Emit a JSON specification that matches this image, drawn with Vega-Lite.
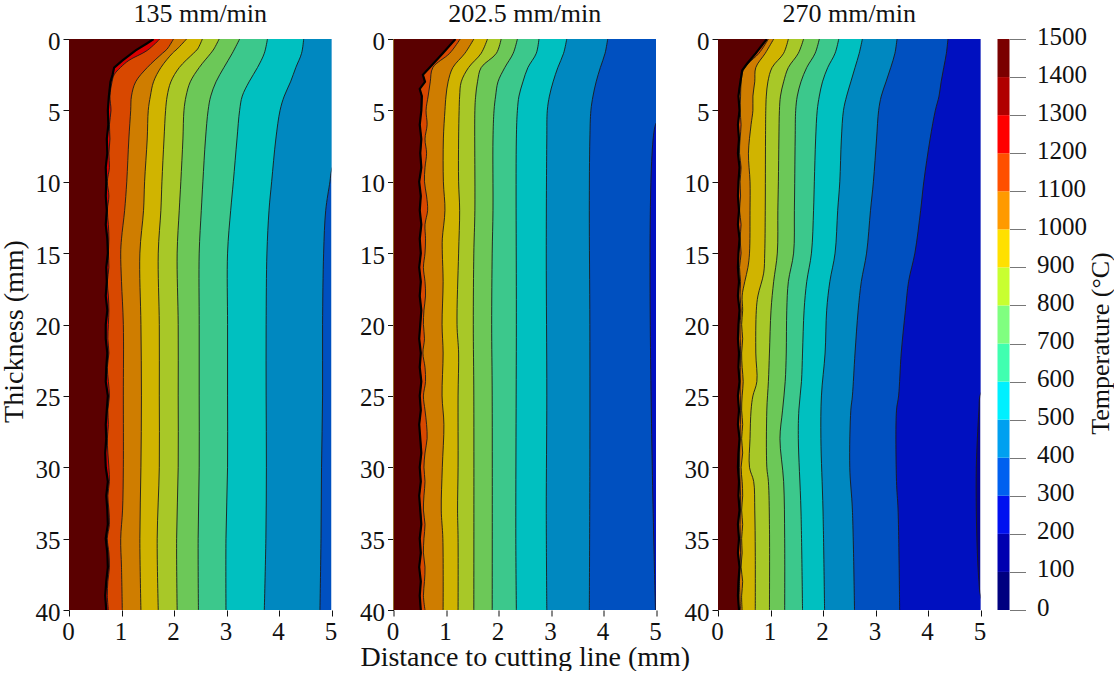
{"$schema":"https://vega.github.io/schema/vega-lite/v6.json","background":"white","padding":{"left":0,"right":0,"top":1,"bottom":0},"bounds":"flush","spacing":61.5,"resolve":{"scale":{"color":"independent"}},"config":{"font":"Liberation Serif","view":{"stroke":null},"concat":{"spacing":61.5},"axis":{"grid":false,"domain":false,"labelFont":"Liberation Serif","titleFont":"Liberation Serif","labelColor":"#111","titleColor":"#111","titleFontWeight":"normal","labelFontSize":25,"titleFontSize":28,"tickColor":"#111","tickSize":6,"labelFlush":false,"labelOverlap":false},"title":{"font":"Liberation Serif","fontSize":26,"fontWeight":"normal","color":"#111","offset":2}},
"datasets":{
"bands":[{"lo":0,"hi":100},{"lo":100,"hi":200},{"lo":200,"hi":300},{"lo":300,"hi":400},{"lo":400,"hi":500},{"lo":500,"hi":600},{"lo":600,"hi":700},{"lo":700,"hi":800},{"lo":800,"hi":900},{"lo":900,"hi":1000},{"lo":1000,"hi":1100},{"lo":1100,"hi":1200},{"lo":1200,"hi":1300},{"lo":1300,"hi":1400},{"lo":1400,"hi":1500}],
"p135":[{"T":300,"y":0,"x":5},{"T":300,"y":40,"x":5},
{"T":400,"y":0,"x":5.2},{"T":400,"y":8,"x":5.1},{"T":400,"y":9.2,"x":5},{"T":400,"y":10,"x":4.97},{"T":400,"y":12,"x":4.89},{"T":400,"y":15,"x":4.85},{"T":400,"y":20,"x":4.83},{"T":400,"y":25,"x":4.83},{"T":400,"y":30,"x":4.81},{"T":400,"y":35,"x":4.8},{"T":400,"y":40,"x":4.78},
{"T":500,"y":0,"x":4.47},{"T":500,"y":1,"x":4.43},{"T":500,"y":2,"x":4.32},{"T":500,"y":3,"x":4.22},{"T":500,"y":4,"x":4.1},{"T":500,"y":5,"x":4.02},{"T":500,"y":7,"x":3.94},{"T":500,"y":10,"x":3.86},{"T":500,"y":12,"x":3.81},{"T":500,"y":15,"x":3.77},{"T":500,"y":20,"x":3.755},{"T":500,"y":25,"x":3.755},{"T":500,"y":30,"x":3.76},{"T":500,"y":35,"x":3.75},{"T":500,"y":40,"x":3.72},
{"T":600,"y":0,"x":3.78},{"T":600,"y":1,"x":3.72},{"T":600,"y":2,"x":3.59},{"T":600,"y":3,"x":3.43},{"T":600,"y":4,"x":3.3},{"T":600,"y":5,"x":3.25},{"T":600,"y":7,"x":3.2},{"T":600,"y":10,"x":3.13},{"T":600,"y":12,"x":3.08},{"T":600,"y":15,"x":3.02},{"T":600,"y":20,"x":3.02},{"T":600,"y":25,"x":3.02},{"T":600,"y":30,"x":3.02},{"T":600,"y":35,"x":2.99},{"T":600,"y":40,"x":2.99},
{"T":700,"y":0,"x":3.25},{"T":700,"y":1,"x":3.11},{"T":700,"y":2,"x":2.95},{"T":700,"y":3,"x":2.8},{"T":700,"y":4,"x":2.7},{"T":700,"y":5,"x":2.65},{"T":700,"y":7,"x":2.6},{"T":700,"y":10,"x":2.55},{"T":700,"y":12,"x":2.52},{"T":700,"y":15,"x":2.48},{"T":700,"y":20,"x":2.48},{"T":700,"y":25,"x":2.48},{"T":700,"y":30,"x":2.48},{"T":700,"y":35,"x":2.46},{"T":700,"y":40,"x":2.465},
{"T":800,"y":0,"x":2.86},{"T":800,"y":0.7,"x":2.76},{"T":800,"y":1,"x":2.7},{"T":800,"y":2,"x":2.48},{"T":800,"y":3,"x":2.31},{"T":800,"y":4,"x":2.23},{"T":800,"y":5,"x":2.19},{"T":800,"y":7,"x":2.17},{"T":800,"y":10,"x":2.13},{"T":800,"y":12,"x":2.1},{"T":800,"y":15,"x":2.06},{"T":800,"y":20,"x":2.08},{"T":800,"y":25,"x":2.08},{"T":800,"y":30,"x":2.08},{"T":800,"y":35,"x":2.05},{"T":800,"y":40,"x":2.06},
{"T":900,"y":0,"x":2.54},{"T":900,"y":0.7,"x":2.45},{"T":900,"y":1,"x":2.37},{"T":900,"y":2,"x":2.1},{"T":900,"y":3,"x":1.94},{"T":900,"y":4,"x":1.87},{"T":900,"y":5,"x":1.84},{"T":900,"y":7,"x":1.81},{"T":900,"y":10,"x":1.77},{"T":900,"y":12,"x":1.75},{"T":900,"y":15,"x":1.7},{"T":900,"y":20,"x":1.72},{"T":900,"y":25,"x":1.72},{"T":900,"y":30,"x":1.72},{"T":900,"y":35,"x":1.68},{"T":900,"y":40,"x":1.7},
{"T":1000,"y":0,"x":2.24},{"T":1000,"y":0.7,"x":2.06},{"T":1000,"y":1,"x":1.97},{"T":1000,"y":2,"x":1.75},{"T":1000,"y":3,"x":1.61},{"T":1000,"y":4,"x":1.55},{"T":1000,"y":5,"x":1.51},{"T":1000,"y":7,"x":1.49},{"T":1000,"y":10,"x":1.44},{"T":1000,"y":12,"x":1.42},{"T":1000,"y":15,"x":1.35},{"T":1000,"y":20,"x":1.37},{"T":1000,"y":25,"x":1.38},{"T":1000,"y":30,"x":1.37},{"T":1000,"y":35,"x":1.35},{"T":1000,"y":40,"x":1.37},
{"T":1100,"y":0,"x":1.99},{"T":1100,"y":0.7,"x":1.87},{"T":1100,"y":1,"x":1.78},{"T":1100,"y":2,"x":1.49},{"T":1100,"y":3,"x":1.27},{"T":1100,"y":4,"x":1.19},{"T":1100,"y":5,"x":1.175},{"T":1100,"y":7,"x":1.14},{"T":1100,"y":10,"x":1.1},{"T":1100,"y":12,"x":1.06},{"T":1100,"y":14,"x":1},{"T":1100,"y":15,"x":0.985},{"T":1100,"y":17,"x":1},{"T":1100,"y":20,"x":1.035},{"T":1100,"y":25,"x":1.035},{"T":1100,"y":30,"x":1.035},{"T":1100,"y":33,"x":1.02},{"T":1100,"y":35,"x":0.985},{"T":1100,"y":37,"x":1},{"T":1100,"y":40,"x":1.015},
{"T":1200,"y":0,"x":1.73},{"T":1200,"y":0.8,"x":1.49},{"T":1200,"y":1.5,"x":1.14},{"T":1200,"y":2,"x":0.98},{"T":1200,"y":2.5,"x":0.86},{"T":1200,"y":3,"x":0.82},{"T":1200,"y":4,"x":0.78},{"T":1200,"y":5,"x":0.8},{"T":1200,"y":6,"x":0.77},{"T":1200,"y":7,"x":0.78},{"T":1200,"y":8,"x":0.76},{"T":1200,"y":9,"x":0.77},{"T":1200,"y":10,"x":0.73},{"T":1200,"y":11,"x":0.76},{"T":1200,"y":12,"x":0.73},{"T":1200,"y":13,"x":0.75},{"T":1200,"y":14,"x":0.76},{"T":1200,"y":15,"x":0.75},{"T":1200,"y":16,"x":0.76},{"T":1200,"y":17,"x":0.73},{"T":1200,"y":18,"x":0.75},{"T":1200,"y":19,"x":0.76},{"T":1200,"y":20,"x":0.75},{"T":1200,"y":21,"x":0.74},{"T":1200,"y":22,"x":0.76},{"T":1200,"y":23,"x":0.73},{"T":1200,"y":24,"x":0.75},{"T":1200,"y":25,"x":0.77},{"T":1200,"y":26,"x":0.74},{"T":1200,"y":27,"x":0.75},{"T":1200,"y":28,"x":0.73},{"T":1200,"y":29,"x":0.74},{"T":1200,"y":30,"x":0.76},{"T":1200,"y":31,"x":0.77},{"T":1200,"y":32,"x":0.74},{"T":1200,"y":33,"x":0.76},{"T":1200,"y":34,"x":0.77},{"T":1200,"y":35,"x":0.73},{"T":1200,"y":36,"x":0.76},{"T":1200,"y":37,"x":0.77},{"T":1200,"y":38,"x":0.74},{"T":1200,"y":39,"x":0.73},{"T":1200,"y":40,"x":0.75},
{"T":1400,"y":0,"x":1.61},{"T":1400,"y":0.3,"x":1.49},{"T":1400,"y":0.8,"x":1.27},{"T":1400,"y":1.5,"x":1.02},{"T":1400,"y":2,"x":0.86},{"T":1400,"y":2.5,"x":0.83},{"T":1400,"y":3,"x":0.79},{"T":1400,"y":4,"x":0.76},{"T":1400,"y":5,"x":0.74},{"T":1400,"y":6,"x":0.75},{"T":1400,"y":7,"x":0.72},{"T":1400,"y":8,"x":0.73},{"T":1400,"y":9,"x":0.7},{"T":1400,"y":10,"x":0.71},{"T":1400,"y":11,"x":0.7},{"T":1400,"y":12,"x":0.72},{"T":1400,"y":13,"x":0.7},{"T":1400,"y":14,"x":0.73},{"T":1400,"y":15,"x":0.74},{"T":1400,"y":16,"x":0.71},{"T":1400,"y":17,"x":0.72},{"T":1400,"y":18,"x":0.7},{"T":1400,"y":19,"x":0.73},{"T":1400,"y":20,"x":0.7},{"T":1400,"y":21,"x":0.7},{"T":1400,"y":22,"x":0.73},{"T":1400,"y":23,"x":0.71},{"T":1400,"y":24,"x":0.7},{"T":1400,"y":25,"x":0.74},{"T":1400,"y":26,"x":0.72},{"T":1400,"y":27,"x":0.7},{"T":1400,"y":28,"x":0.71},{"T":1400,"y":29,"x":0.69},{"T":1400,"y":30,"x":0.7},{"T":1400,"y":31,"x":0.74},{"T":1400,"y":32,"x":0.71},{"T":1400,"y":33,"x":0.73},{"T":1400,"y":34,"x":0.74},{"T":1400,"y":35,"x":0.7},{"T":1400,"y":36,"x":0.73},{"T":1400,"y":37,"x":0.74},{"T":1400,"y":38,"x":0.71},{"T":1400,"y":39,"x":0.69},{"T":1400,"y":40,"x":0.71}],
"p202":[{"T":200,"y":0,"x":5},{"T":200,"y":40,"x":5},
{"T":300,"y":0,"x":5.2},{"T":300,"y":5.5,"x":5.1},{"T":300,"y":6,"x":4.99},{"T":300,"y":40,"x":4.99},
{"T":400,"y":0,"x":4.08},{"T":400,"y":1,"x":4.03},{"T":400,"y":2,"x":3.94},{"T":400,"y":3,"x":3.86},{"T":400,"y":4,"x":3.8},{"T":400,"y":5,"x":3.76},{"T":400,"y":7,"x":3.74},{"T":400,"y":12,"x":3.73},{"T":400,"y":20,"x":3.74},{"T":400,"y":30,"x":3.74},{"T":400,"y":40,"x":3.73},
{"T":500,"y":0,"x":3.3},{"T":500,"y":1,"x":3.24},{"T":500,"y":2,"x":3.13},{"T":500,"y":3,"x":3.04},{"T":500,"y":4,"x":2.97},{"T":500,"y":5,"x":2.93},{"T":500,"y":7,"x":2.92},{"T":500,"y":15,"x":2.91},{"T":500,"y":25,"x":2.92},{"T":500,"y":33,"x":2.91},{"T":500,"y":40,"x":2.92},
{"T":600,"y":0,"x":2.77},{"T":600,"y":1,"x":2.72},{"T":600,"y":2,"x":2.56},{"T":600,"y":3,"x":2.465},{"T":600,"y":4,"x":2.39},{"T":600,"y":5,"x":2.36},{"T":600,"y":7,"x":2.34},{"T":600,"y":20,"x":2.34},{"T":600,"y":35,"x":2.33},{"T":600,"y":40,"x":2.34},
{"T":700,"y":0,"x":2.36},{"T":700,"y":1,"x":2.28},{"T":700,"y":2,"x":2.12},{"T":700,"y":3,"x":1.99},{"T":700,"y":4,"x":1.945},{"T":700,"y":5,"x":1.915},{"T":700,"y":7,"x":1.895},{"T":700,"y":12,"x":1.895},{"T":700,"y":15,"x":1.88},{"T":700,"y":20,"x":1.87},{"T":700,"y":25,"x":1.88},{"T":700,"y":40,"x":1.88},
{"T":800,"y":0,"x":2.05},{"T":800,"y":1,"x":1.96},{"T":800,"y":2,"x":1.67},{"T":800,"y":3,"x":1.6},{"T":800,"y":4,"x":1.565},{"T":800,"y":5,"x":1.55},{"T":800,"y":12,"x":1.55},{"T":800,"y":15,"x":1.53},{"T":800,"y":20,"x":1.52},{"T":800,"y":25,"x":1.53},{"T":800,"y":40,"x":1.53},
{"T":900,"y":0,"x":1.79},{"T":900,"y":1,"x":1.67},{"T":900,"y":2,"x":1.43},{"T":900,"y":3,"x":1.29},{"T":900,"y":4,"x":1.26},{"T":900,"y":5,"x":1.25},{"T":900,"y":7,"x":1.24},{"T":900,"y":10,"x":1.24},{"T":900,"y":12,"x":1.26},{"T":900,"y":15,"x":1.24},{"T":900,"y":20,"x":1.21},{"T":900,"y":22,"x":1.24},{"T":900,"y":25,"x":1.23},{"T":900,"y":30,"x":1.23},{"T":900,"y":33,"x":1.22},{"T":900,"y":35,"x":1.23},{"T":900,"y":40,"x":1.23},
{"T":1000,"y":0,"x":1.53},{"T":1000,"y":1,"x":1.36},{"T":1000,"y":2,"x":1.13},{"T":1000,"y":3,"x":1.04},{"T":1000,"y":4,"x":1},{"T":1000,"y":5,"x":0.98},{"T":1000,"y":7,"x":0.95},{"T":1000,"y":10,"x":0.95},{"T":1000,"y":12,"x":0.98},{"T":1000,"y":14,"x":0.93},{"T":1000,"y":15,"x":0.93},{"T":1000,"y":17,"x":0.945},{"T":1000,"y":20,"x":0.925},{"T":1000,"y":22,"x":0.945},{"T":1000,"y":25,"x":0.925},{"T":1000,"y":27,"x":0.96},{"T":1000,"y":30,"x":0.93},{"T":1000,"y":33,"x":0.91},{"T":1000,"y":35,"x":0.94},{"T":1000,"y":40,"x":0.945},
{"T":1100,"y":0,"x":1.27},{"T":1100,"y":1,"x":1.07},{"T":1100,"y":2,"x":0.75},{"T":1100,"y":3,"x":0.7},{"T":1100,"y":4,"x":0.66},{"T":1100,"y":5,"x":0.62},{"T":1100,"y":6,"x":0.64},{"T":1100,"y":7,"x":0.6},{"T":1100,"y":8,"x":0.63},{"T":1100,"y":9,"x":0.6},{"T":1100,"y":10,"x":0.59},{"T":1100,"y":11,"x":0.63},{"T":1100,"y":12,"x":0.65},{"T":1100,"y":13,"x":0.6},{"T":1100,"y":14,"x":0.61},{"T":1100,"y":15,"x":0.6},{"T":1100,"y":16,"x":0.57},{"T":1100,"y":17,"x":0.6},{"T":1100,"y":18,"x":0.61},{"T":1100,"y":19,"x":0.58},{"T":1100,"y":20,"x":0.57},{"T":1100,"y":21,"x":0.59},{"T":1100,"y":22,"x":0.56},{"T":1100,"y":23,"x":0.6},{"T":1100,"y":24,"x":0.61},{"T":1100,"y":25,"x":0.57},{"T":1100,"y":26,"x":0.6},{"T":1100,"y":27,"x":0.63},{"T":1100,"y":28,"x":0.64},{"T":1100,"y":29,"x":0.6},{"T":1100,"y":30,"x":0.58},{"T":1100,"y":31,"x":0.6},{"T":1100,"y":32,"x":0.58},{"T":1100,"y":33,"x":0.57},{"T":1100,"y":34,"x":0.6},{"T":1100,"y":35,"x":0.58},{"T":1100,"y":36,"x":0.57},{"T":1100,"y":37,"x":0.6},{"T":1100,"y":38,"x":0.59},{"T":1100,"y":39,"x":0.57},{"T":1100,"y":40,"x":0.6},
{"T":1400,"y":0,"x":1.18},{"T":1400,"y":1,"x":0.94},{"T":1400,"y":2,"x":0.69},{"T":1400,"y":2.5,"x":0.56},{"T":1400,"y":3,"x":0.6},{"T":1400,"y":3.5,"x":0.5},{"T":1400,"y":4,"x":0.54},{"T":1400,"y":5,"x":0.53},{"T":1400,"y":6,"x":0.5},{"T":1400,"y":7,"x":0.53},{"T":1400,"y":8,"x":0.51},{"T":1400,"y":9,"x":0.53},{"T":1400,"y":10,"x":0.49},{"T":1400,"y":11,"x":0.52},{"T":1400,"y":12,"x":0.5},{"T":1400,"y":13,"x":0.53},{"T":1400,"y":14,"x":0.5},{"T":1400,"y":15,"x":0.52},{"T":1400,"y":16,"x":0.49},{"T":1400,"y":17,"x":0.52},{"T":1400,"y":18,"x":0.5},{"T":1400,"y":19,"x":0.53},{"T":1400,"y":20,"x":0.51},{"T":1400,"y":21,"x":0.49},{"T":1400,"y":22,"x":0.52},{"T":1400,"y":23,"x":0.5},{"T":1400,"y":24,"x":0.53},{"T":1400,"y":25,"x":0.5},{"T":1400,"y":26,"x":0.52},{"T":1400,"y":27,"x":0.49},{"T":1400,"y":28,"x":0.51},{"T":1400,"y":29,"x":0.53},{"T":1400,"y":30,"x":0.5},{"T":1400,"y":31,"x":0.52},{"T":1400,"y":32,"x":0.49},{"T":1400,"y":33,"x":0.51},{"T":1400,"y":34,"x":0.53},{"T":1400,"y":35,"x":0.5},{"T":1400,"y":36,"x":0.52},{"T":1400,"y":37,"x":0.49},{"T":1400,"y":38,"x":0.52},{"T":1400,"y":39,"x":0.5},{"T":1400,"y":40,"x":0.52}],
"p270":[{"T":100,"y":0,"x":5},{"T":100,"y":40,"x":5},
{"T":200,"y":0,"x":5.2},{"T":200,"y":24,"x":5.1},{"T":200,"y":25,"x":4.99},{"T":200,"y":26,"x":4.97},{"T":200,"y":28,"x":4.94},{"T":200,"y":30,"x":4.92},{"T":200,"y":33,"x":4.92},{"T":200,"y":36,"x":4.94},{"T":200,"y":38,"x":4.97},{"T":200,"y":39,"x":5},{"T":200,"y":40,"x":5.1},
{"T":300,"y":0,"x":4.38},{"T":300,"y":1,"x":4.35},{"T":300,"y":2,"x":4.3},{"T":300,"y":3,"x":4.25},{"T":300,"y":4,"x":4.21},{"T":300,"y":5,"x":4.14},{"T":300,"y":7,"x":4.04},{"T":300,"y":10,"x":3.92},{"T":300,"y":12,"x":3.86},{"T":300,"y":15,"x":3.75},{"T":300,"y":17,"x":3.63},{"T":300,"y":19,"x":3.57},{"T":300,"y":22,"x":3.49},{"T":300,"y":25,"x":3.44},{"T":300,"y":26,"x":3.4},{"T":300,"y":31,"x":3.4},{"T":300,"y":33,"x":3.43},{"T":300,"y":40,"x":3.46},
{"T":400,"y":0,"x":3.41},{"T":400,"y":1,"x":3.37},{"T":400,"y":2,"x":3.29},{"T":400,"y":3,"x":3.2},{"T":400,"y":4,"x":3.11},{"T":400,"y":5,"x":3.06},{"T":400,"y":7,"x":3.02},{"T":400,"y":10,"x":2.96},{"T":400,"y":12,"x":2.905},{"T":400,"y":15,"x":2.83},{"T":400,"y":17,"x":2.73},{"T":400,"y":19,"x":2.67},{"T":400,"y":22,"x":2.61},{"T":400,"y":25,"x":2.56},{"T":400,"y":26,"x":2.53},{"T":400,"y":30,"x":2.51},{"T":400,"y":33,"x":2.56},{"T":400,"y":40,"x":2.6},
{"T":500,"y":0,"x":2.75},{"T":500,"y":1,"x":2.69},{"T":500,"y":2,"x":2.61},{"T":500,"y":3,"x":2.53},{"T":500,"y":4,"x":2.45},{"T":500,"y":5,"x":2.39},{"T":500,"y":7,"x":2.35},{"T":500,"y":10,"x":2.32},{"T":500,"y":12,"x":2.28},{"T":500,"y":15,"x":2.23},{"T":500,"y":17,"x":2.13},{"T":500,"y":19,"x":2.07},{"T":500,"y":22,"x":2.04},{"T":500,"y":25,"x":1.97},{"T":500,"y":28,"x":1.96},{"T":500,"y":33,"x":2},{"T":500,"y":40,"x":2.03},
{"T":600,"y":0,"x":2.3},{"T":600,"y":1,"x":2.23},{"T":600,"y":2,"x":2.09},{"T":600,"y":3,"x":1.99},{"T":600,"y":4,"x":1.93},{"T":600,"y":5,"x":1.89},{"T":600,"y":7,"x":1.86},{"T":600,"y":10,"x":1.835},{"T":600,"y":12,"x":1.82},{"T":600,"y":15,"x":1.78},{"T":600,"y":17,"x":1.69},{"T":600,"y":19,"x":1.64},{"T":600,"y":22,"x":1.61},{"T":600,"y":24,"x":1.59},{"T":600,"y":26,"x":1.54},{"T":600,"y":28,"x":1.53},{"T":600,"y":33,"x":1.58},{"T":600,"y":40,"x":1.61},
{"T":700,"y":0,"x":1.93},{"T":700,"y":1,"x":1.85},{"T":700,"y":2,"x":1.69},{"T":700,"y":3,"x":1.58},{"T":700,"y":4,"x":1.51},{"T":700,"y":5,"x":1.48},{"T":700,"y":7,"x":1.47},{"T":700,"y":12,"x":1.455},{"T":700,"y":15,"x":1.44},{"T":700,"y":17,"x":1.34},{"T":700,"y":19,"x":1.31},{"T":700,"y":22,"x":1.3},{"T":700,"y":24,"x":1.28},{"T":700,"y":26,"x":1.23},{"T":700,"y":28,"x":1.18},{"T":700,"y":31,"x":1.25},{"T":700,"y":35,"x":1.27},{"T":700,"y":40,"x":1.27},
{"T":800,"y":0,"x":1.63},{"T":800,"y":1,"x":1.53},{"T":800,"y":2,"x":1.34},{"T":800,"y":3,"x":1.25},{"T":800,"y":4,"x":1.19},{"T":800,"y":5,"x":1.17},{"T":800,"y":7,"x":1.16},{"T":800,"y":10,"x":1.15},{"T":800,"y":12,"x":1.14},{"T":800,"y":15,"x":1.13},{"T":800,"y":17,"x":1.06},{"T":800,"y":19,"x":1.01},{"T":800,"y":22,"x":0.98},{"T":800,"y":24,"x":0.96},{"T":800,"y":26,"x":0.93},{"T":800,"y":30,"x":0.93},{"T":800,"y":31,"x":0.96},{"T":800,"y":34,"x":0.98},{"T":800,"y":40,"x":0.98},
{"T":900,"y":0,"x":1.34},{"T":900,"y":1,"x":1.25},{"T":900,"y":2,"x":1.03},{"T":900,"y":3,"x":0.95},{"T":900,"y":4,"x":0.92},{"T":900,"y":5,"x":0.91},{"T":900,"y":7,"x":0.905},{"T":900,"y":12,"x":0.9},{"T":900,"y":15,"x":0.89},{"T":900,"y":16.4,"x":0.87},{"T":900,"y":18,"x":0.76},{"T":900,"y":19,"x":0.73},{"T":900,"y":22,"x":0.72},{"T":900,"y":24,"x":0.74},{"T":900,"y":25,"x":0.665},{"T":900,"y":26,"x":0.63},{"T":900,"y":28,"x":0.61},{"T":900,"y":30,"x":0.6},{"T":900,"y":31,"x":0.68},{"T":900,"y":33,"x":0.7},{"T":900,"y":36,"x":0.71},{"T":900,"y":40,"x":0.71},
{"T":1000,"y":0,"x":1.06},{"T":1000,"y":1,"x":0.9},{"T":1000,"y":2,"x":0.72},{"T":1000,"y":3,"x":0.7},{"T":1000,"y":4,"x":0.665},{"T":1000,"y":5,"x":0.665},{"T":1000,"y":6,"x":0.63},{"T":1000,"y":8,"x":0.58},{"T":1000,"y":10,"x":0.61},{"T":1000,"y":12,"x":0.61},{"T":1000,"y":15,"x":0.6},{"T":1000,"y":16,"x":0.57},{"T":1000,"y":17,"x":0.51},{"T":1000,"y":18,"x":0.46},{"T":1000,"y":19,"x":0.47},{"T":1000,"y":20,"x":0.45},{"T":1000,"y":21,"x":0.47},{"T":1000,"y":22,"x":0.45},{"T":1000,"y":23,"x":0.46},{"T":1000,"y":24,"x":0.48},{"T":1000,"y":25,"x":0.46},{"T":1000,"y":26,"x":0.45},{"T":1000,"y":27,"x":0.47},{"T":1000,"y":28,"x":0.45},{"T":1000,"y":29,"x":0.47},{"T":1000,"y":30,"x":0.44},{"T":1000,"y":31,"x":0.46},{"T":1000,"y":32,"x":0.47},{"T":1000,"y":33,"x":0.45},{"T":1000,"y":34,"x":0.47},{"T":1000,"y":35,"x":0.45},{"T":1000,"y":36,"x":0.46},{"T":1000,"y":37,"x":0.44},{"T":1000,"y":38,"x":0.47},{"T":1000,"y":39,"x":0.45},{"T":1000,"y":40,"x":0.46},
{"T":1100,"y":0,"x":0.96},{"T":1100,"y":1,"x":0.78},{"T":1100,"y":1.7,"x":0.58},{"T":1100,"y":2.2,"x":0.48},{"T":1100,"y":3,"x":0.44},{"T":1100,"y":4,"x":0.43},{"T":1100,"y":5,"x":0.42},{"T":1100,"y":6,"x":0.44},{"T":1100,"y":7,"x":0.42},{"T":1100,"y":8,"x":0.41},{"T":1100,"y":9,"x":0.44},{"T":1100,"y":10,"x":0.42},{"T":1100,"y":11,"x":0.43},{"T":1100,"y":12,"x":0.41},{"T":1100,"y":13,"x":0.44},{"T":1100,"y":14,"x":0.42},{"T":1100,"y":15,"x":0.44},{"T":1100,"y":16,"x":0.41},{"T":1100,"y":17,"x":0.43},{"T":1100,"y":18,"x":0.42},{"T":1100,"y":19,"x":0.44},{"T":1100,"y":20,"x":0.42},{"T":1100,"y":22,"x":0.43},{"T":1100,"y":24,"x":0.42},{"T":1100,"y":26,"x":0.43},{"T":1100,"y":28,"x":0.42},{"T":1100,"y":30,"x":0.41},{"T":1100,"y":32,"x":0.43},{"T":1100,"y":34,"x":0.42},{"T":1100,"y":36,"x":0.43},{"T":1100,"y":38,"x":0.41},{"T":1100,"y":40,"x":0.43},
{"T":1400,"y":0,"x":0.93},{"T":1400,"y":1,"x":0.72},{"T":1400,"y":1.7,"x":0.56},{"T":1400,"y":2.2,"x":0.46},{"T":1400,"y":3.4,"x":0.41},{"T":1400,"y":4,"x":0.39},{"T":1400,"y":5,"x":0.41},{"T":1400,"y":6,"x":0.38},{"T":1400,"y":7,"x":0.4},{"T":1400,"y":8,"x":0.38},{"T":1400,"y":9,"x":0.41},{"T":1400,"y":10,"x":0.39},{"T":1400,"y":11,"x":0.38},{"T":1400,"y":12,"x":0.4},{"T":1400,"y":13,"x":0.38},{"T":1400,"y":14,"x":0.41},{"T":1400,"y":15,"x":0.39},{"T":1400,"y":16,"x":0.38},{"T":1400,"y":17,"x":0.4},{"T":1400,"y":18,"x":0.38},{"T":1400,"y":19,"x":0.41},{"T":1400,"y":20,"x":0.39},{"T":1400,"y":21,"x":0.38},{"T":1400,"y":22,"x":0.4},{"T":1400,"y":23,"x":0.39},{"T":1400,"y":24,"x":0.41},{"T":1400,"y":25,"x":0.38},{"T":1400,"y":26,"x":0.4},{"T":1400,"y":27,"x":0.38},{"T":1400,"y":28,"x":0.41},{"T":1400,"y":29,"x":0.39},{"T":1400,"y":30,"x":0.38},{"T":1400,"y":31,"x":0.4},{"T":1400,"y":32,"x":0.39},{"T":1400,"y":33,"x":0.41},{"T":1400,"y":34,"x":0.38},{"T":1400,"y":35,"x":0.4},{"T":1400,"y":36,"x":0.38},{"T":1400,"y":37,"x":0.41},{"T":1400,"y":38,"x":0.39},{"T":1400,"y":39,"x":0.38},{"T":1400,"y":40,"x":0.4}]
},
"hconcat":[
{"width":262.5,"height":571,"title":"135 mm/min","data":{"name":"p135"},"layer":[
{"mark":{"type":"area","orient":"horizontal","clip":true,"interpolate":"catmull-rom"},"encoding":{"x":{"field":"x","type":"quantitative","stack":null,"scale":{"domain":[0,5],"nice":false},"axis":{"values":[0,1,2,3,4,5],"title":null,"labelPadding":3,"labelOffset":-1}},"y":{"field":"y","type":"quantitative","scale":{"domain":[0,40],"nice":false,"reverse":true},"axis":{"values":[0,5,10,15,20,25,30,35,40],"title":"Thickness (mm)","labelPadding":3,"labelOffset":2,"titleX":-41,"titleY":292}},"color":{"field":"T","type":"nominal","legend":null,"scale":{"domain":[100,200,300,400,500,600,700,800,900,1000,1100,1200,1300,1400],"range":["#000090","#0010c0","#0050c0","#0088c0","#00c0c0","#3cc88c","#6cc858","#a8c828","#d0b400","#cf7d00","#d84800","#d80000","#900000","#5a0000"]}}}},
{"transform":[{"filter":"datum.T>300"}],"mark":{"type":"line","clip":true,"interpolate":"catmull-rom","color":"#1c1c1c","strokeWidth":1,"opacity":0.9},"encoding":{"x":{"field":"x","type":"quantitative"},"y":{"field":"y","type":"quantitative"},"detail":{"field":"T","type":"nominal"},"order":{"field":"y","type":"quantitative"}}},
{"transform":[{"filter":"datum.T==1400"}],"mark":{"type":"line","clip":true,"color":"#000","strokeWidth":2.2},"encoding":{"x":{"field":"x","type":"quantitative"},"y":{"field":"y","type":"quantitative"},"order":{"field":"y","type":"quantitative"}}}]},
{"width":262.5,"height":571,"title":"202.5 mm/min","data":{"name":"p202"},"layer":[
{"mark":{"type":"area","orient":"horizontal","clip":true,"interpolate":"catmull-rom"},"encoding":{"x":{"field":"x","type":"quantitative","stack":null,"scale":{"domain":[0,5],"nice":false},"axis":{"values":[0,1,2,3,4,5],"title":"Distance to cutting line (mm)","labelPadding":3,"labelOffset":-1,"titleY":33}},"y":{"field":"y","type":"quantitative","scale":{"domain":[0,40],"nice":false,"reverse":true},"axis":{"values":[0,5,10,15,20,25,30,35,40],"title":null,"labelPadding":3,"labelOffset":2}},"color":{"field":"T","type":"nominal","legend":null,"scale":{"domain":[100,200,300,400,500,600,700,800,900,1000,1100,1200,1300,1400],"range":["#000090","#0010c0","#0050c0","#0088c0","#00c0c0","#3cc88c","#6cc858","#a8c828","#d0b400","#cf7d00","#d84800","#d80000","#900000","#5a0000"]}}}},
{"transform":[{"filter":"datum.T>200"}],"mark":{"type":"line","clip":true,"interpolate":"catmull-rom","color":"#1c1c1c","strokeWidth":1,"opacity":0.9},"encoding":{"x":{"field":"x","type":"quantitative"},"y":{"field":"y","type":"quantitative"},"detail":{"field":"T","type":"nominal"},"order":{"field":"y","type":"quantitative"}}},
{"transform":[{"filter":"datum.T==1400"}],"mark":{"type":"line","clip":true,"color":"#000","strokeWidth":2.2},"encoding":{"x":{"field":"x","type":"quantitative"},"y":{"field":"y","type":"quantitative"},"order":{"field":"y","type":"quantitative"}}}]},
{"spacing":16.5,"bounds":"flush","resolve":{"scale":{"color":"independent"}},"hconcat":[
{"width":262.5,"height":571,"title":"270 mm/min","data":{"name":"p270"},"layer":[
{"mark":{"type":"area","orient":"horizontal","clip":true,"interpolate":"catmull-rom"},"encoding":{"x":{"field":"x","type":"quantitative","stack":null,"scale":{"domain":[0,5],"nice":false},"axis":{"values":[0,1,2,3,4,5],"title":null,"labelPadding":3,"labelOffset":-1}},"y":{"field":"y","type":"quantitative","scale":{"domain":[0,40],"nice":false,"reverse":true},"axis":{"values":[0,5,10,15,20,25,30,35,40],"title":null,"labelPadding":3,"labelOffset":2}},"color":{"field":"T","type":"nominal","legend":null,"scale":{"domain":[100,200,300,400,500,600,700,800,900,1000,1100,1200,1300,1400],"range":["#000090","#0010c0","#0050c0","#0088c0","#00c0c0","#3cc88c","#6cc858","#a8c828","#d0b400","#cf7d00","#d84800","#d80000","#900000","#5a0000"]}}}},
{"transform":[{"filter":"datum.T>100"}],"mark":{"type":"line","clip":true,"interpolate":"catmull-rom","color":"#1c1c1c","strokeWidth":1,"opacity":0.9},"encoding":{"x":{"field":"x","type":"quantitative"},"y":{"field":"y","type":"quantitative"},"detail":{"field":"T","type":"nominal"},"order":{"field":"y","type":"quantitative"}}},
{"transform":[{"filter":"datum.T==1400"}],"mark":{"type":"line","clip":true,"color":"#000","strokeWidth":2.2},"encoding":{"x":{"field":"x","type":"quantitative"},"y":{"field":"y","type":"quantitative"},"order":{"field":"y","type":"quantitative"}}}]},
{"width":12,"height":571,"data":{"name":"bands"},"mark":{"type":"rect"},"encoding":{"y":{"field":"lo","type":"quantitative","scale":{"domain":[0,1500],"nice":false},"axis":{"orient":"right","format":"d","values":[0,100,200,300,400,500,600,700,800,900,1000,1100,1200,1300,1400,1500],"title":"Temperature (°C)","tickSize":16,"tickColor":"#777","labelPadding":11,"labelOffset":-3,"titleFontSize":26,"titleAngle":270,"titleX":104,"titleY":304}},"y2":{"field":"hi"},"color":{"field":"lo","type":"nominal","legend":null,"scale":{"domain":[0,100,200,300,400,500,600,700,800,900,1000,1100,1200,1300,1400],"range":["#000080","#0000b0","#0010f0","#0060f0","#00a0f0","#00f0ff","#40ffb0","#80ff80","#c8ff30","#ffe000","#ff9a00","#ff5000","#ff0000","#b00000","#7a0000"]}}}}
]}
]}
